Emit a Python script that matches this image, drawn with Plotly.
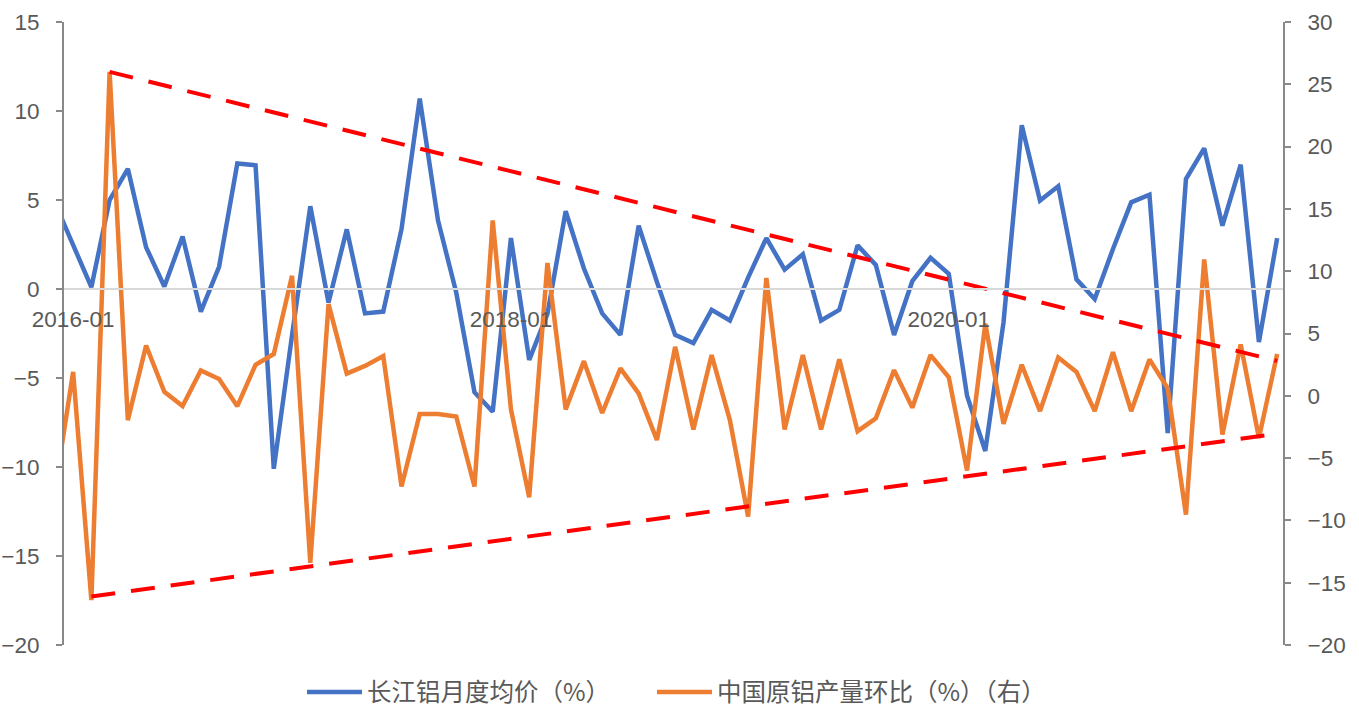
import plotly.graph_objects as go

# ---- data ----
months = ["2015-12"] + [f"{y}-{m:02d}" for y in range(2016, 2022) for m in range(1, 13)]
months = months[:68]  # 2015-12 .. 2021-07

price_mom = [  # 长江铝月度均价（%）, left axis
    4.85, 2.5, 0.1, 5.0, 6.75, 2.35, 0.14, 2.95, -1.27, 1.25, 7.05, 6.95, -10.1,
    -2.6, 4.65, -0.76, 3.35, -1.37, -1.27, 3.36, 10.7, 3.86, -0.2, -5.8, -6.9,
    2.86, -3.98, -1.4, 4.37, 1.15, -1.37, -2.58, 3.56, 0.4, -2.58, -3.04, -1.17,
    -1.77, 0.64, 2.86, 1.09, 1.95, -1.77, -1.17, 2.45, 1.35, -2.58, 0.44, 1.75,
    0.85, -6.0, -9.1, -1.87, 9.2, 4.97, 5.77, 0.54, -0.56, 2.25, 4.87, 5.3, -8.1,
    6.18, 7.9, 3.56, 6.98, -2.98, 2.86,
]
output_mom = [  # 中国原铝产量环比（%）（右）, right axis
    -7.6, 1.92, -16.4, 26.0, -1.95, 4.04, 0.32, -0.83, 2.03, 1.35, -0.83, 2.49,
    3.35, 9.63, -13.4, 7.36, 1.78, 2.4, 3.2, -7.28, -1.46, -1.46, -1.66, -7.28,
    14.07, -1.09, -8.14, 10.66, -1.09, 2.78, -1.38, 2.2, 0.2, -3.55, 3.93, -2.7,
    3.27, -1.95, -9.7, 9.46, -2.7, 3.27, -2.7, 2.92, -2.84, -1.8, 2.06, -0.95,
    3.27, 1.49, -6.0, 5.79, -2.26, 2.49, -1.23, 3.07, 1.92, -1.23, 3.5, -1.23,
    2.92, 0.6, -9.54, 10.95, -3.1, 4.13, -3.38, 3.35,
]
upper_trend_x = ["2016-03", "2021-07"]
upper_trend_y = [26.0, 2.8]
lower_trend_x = ["2016-02", "2021-07"]
lower_trend_y = [-16.1, -3.05]
x_tick_labels = ["2016-01", "2018-01", "2020-01"]

name_price = "长江铝月度均价（%）"
name_output = "中国原铝产量环比（%）（右）"

BLUE = "#4472C4"
ORANGE = "#ED7D31"
RED = "#FF0000"
AXIS = "#898989"
TXT = "#595959"

fig = go.Figure()
fig.add_trace(go.Scatter(x=months, y=price_mom, mode="lines", name=name_price,
                         line=dict(color=BLUE, width=4.5), yaxis="y", legend="legend"))
fig.add_trace(go.Scatter(x=months, y=output_mom, mode="lines", name=name_output,
                         line=dict(color=ORANGE, width=4.5), yaxis="y2", legend="legend2"))
fig.add_trace(go.Scatter(x=upper_trend_x, y=upper_trend_y, mode="lines", showlegend=False,
                         line=dict(color=RED, width=4, dash="24px,16px"), yaxis="y2"))
fig.add_trace(go.Scatter(x=lower_trend_x, y=lower_trend_y, mode="lines", showlegend=False,
                         line=dict(color=RED, width=4, dash="24px,16px"), yaxis="y2"))

tickfont = dict(family="Arial, Liberation Sans, sans-serif", size=22.5, color=TXT)
legend_common = dict(orientation="h", xref="container", xanchor="left",
                     yref="container", y=1 - 692 / 714, yanchor="middle",
                     font=dict(family="Noto Sans CJK SC", size=24.5, color=TXT),
                     itemwidth=55, bgcolor="rgba(0,0,0,0)")

fig.update_layout(
    width=1359, height=714,
    margin=dict(l=64, r=76, t=22, b=69, autoexpand=False),
    paper_bgcolor="white", plot_bgcolor="white",
    showlegend=True,
    legend=dict(x=302 / 1359, **legend_common),
    legend2=dict(x=652 / 1359, **legend_common),
    xaxis=dict(type="category", categoryorder="array", categoryarray=months,
               range=[0.5, 67.32], tickvals=x_tick_labels, ticktext=x_tick_labels,
               showgrid=False, zeroline=False, showline=True, linecolor="#D9D9D9",
               linewidth=2, ticks="", tickfont=tickfont, ticklabelstandoff=10,
               anchor="free", position=20 / 35, automargin=False),
    yaxis=dict(range=[-20, 15], dtick=5, tick0=0, showgrid=False, zeroline=False,
               showline=True, linecolor=AXIS, linewidth=2, ticks="outside",
               ticklen=6, tickwidth=2, tickcolor=AXIS, tickfont=tickfont,
               ticklabelstandoff=12, domain=[0, 1], automargin=False),
    yaxis2=dict(range=[-20, 30], dtick=5, tick0=0, overlaying="y", side="right",
                showgrid=False, zeroline=False, showline=True, linecolor=AXIS,
                linewidth=2, ticks="outside", ticklen=6, tickwidth=2, tickcolor=AXIS,
                tickfont=tickfont, ticklabelstandoff=12, anchor="x", automargin=False),
)

fig.write_html("out.html")
